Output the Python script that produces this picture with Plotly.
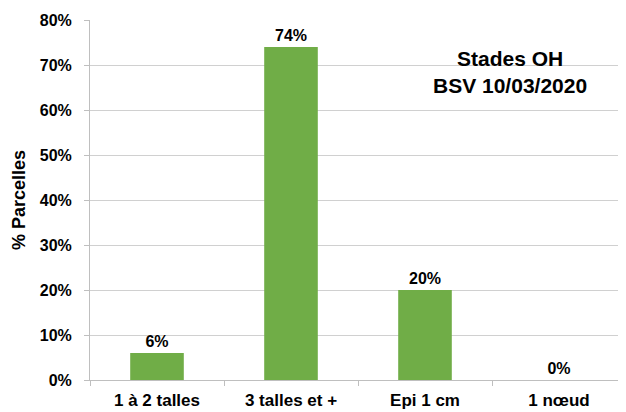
import plotly.graph_objects as go

categories = ["1 à 2 talles", "3 talles et +", "Epi 1 cm", "1 nœud"]
values = [0.06, 0.74, 0.20, 0.0]
labels = ["6%", "74%", "20%", "0%"]
tick_vals = [0, 0.1, 0.2, 0.3, 0.4, 0.5, 0.6, 0.7, 0.8]
tick_text = ["0%", "10%", "20%", "30%", "40%", "50%", "60%", "70%", "80%"]

font_family = "Liberation Sans, Arial, sans-serif"

fig = go.Figure(go.Bar(
    x=categories, y=values, text=["<b>" + t + "</b>" for t in labels],
    textposition="outside", texttemplate="%{text}",
    textfont=dict(family=font_family, size=16, color="black"),
    marker=dict(color="#70ad47", line=dict(width=0)),
    width=0.4, cliponaxis=False,
))

# page body has an 8px default margin; margins compensate so the plot lands where the reference has it
fig.update_layout(
    width=626, height=412,
    margin=dict(l=82, r=8, t=12, b=40),
    plot_bgcolor="white", paper_bgcolor="white",
    font=dict(family=font_family, size=16, color="black"),
    showlegend=False,
    xaxis=dict(
        automargin=False,
        showline=True, linecolor="#bfbfbf", linewidth=1,
        ticks="outside", tickson="boundaries", ticklen=5, tickcolor="#bfbfbf",
        tickfont=dict(family=font_family, size=17, color="black"),
        tickprefix="<b>", ticksuffix="</b>",
        ticklabelstandoff=5,
        showgrid=False,
    ),
    yaxis=dict(
        automargin=False,
        range=[0, 0.8], tickvals=tick_vals,
        ticktext=["<b>" + t + "</b>" for t in tick_text],
        showline=True, linecolor="#bfbfbf", linewidth=1,
        ticks="outside", ticklen=5, tickcolor="#bfbfbf",
        ticklabelstandoff=9,
        showgrid=True, gridcolor="#d0d0d0", gridwidth=1,
        zeroline=False,
        tickfont=dict(family=font_family, size=16, color="black"),
        title=dict(text="<b>% Parcelles</b>", standoff=9,
                   font=dict(family=font_family, size=18, color="black")),
    ),
    annotations=[dict(
        text="<b>Stades OH<br>BSV 10/03/2020</b>",
        xref="paper", yref="paper", x=0.783, y=0.855,
        xanchor="center", yanchor="middle", showarrow=False,
        font=dict(family=font_family, size=21, color="black"),
    )],
)

fig.write_html("out.html")
